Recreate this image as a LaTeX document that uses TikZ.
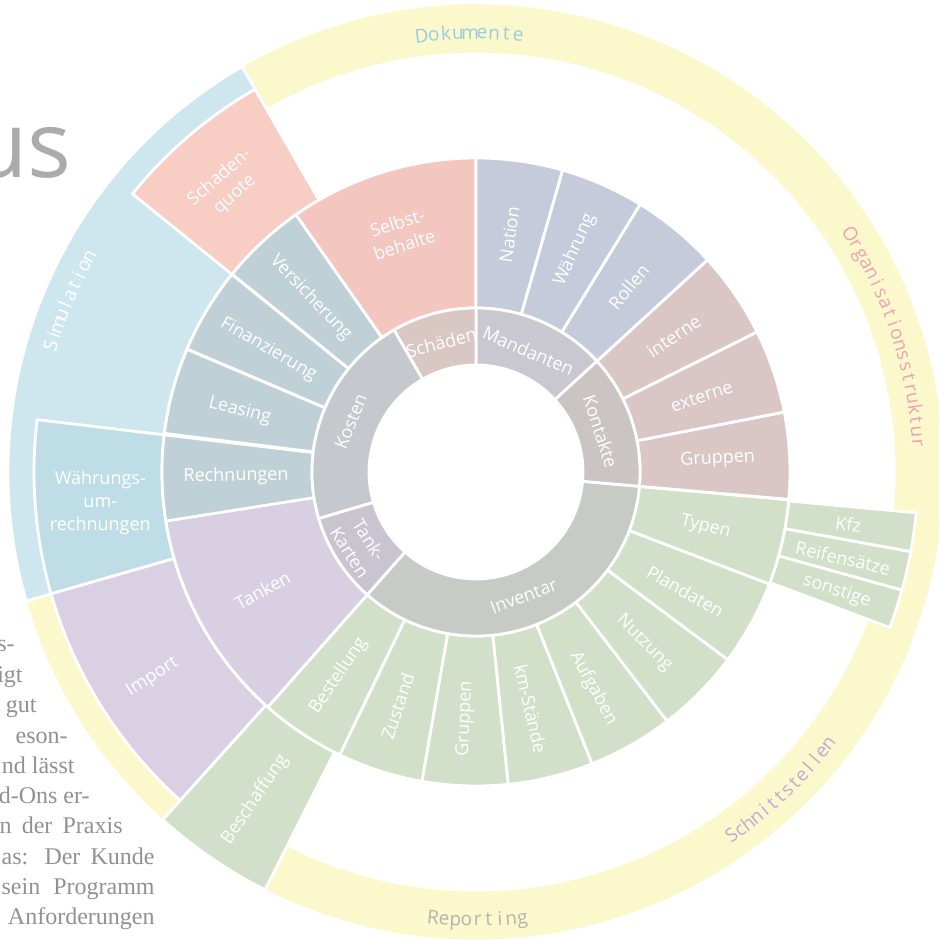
\documentclass[tikz,border=0pt]{standalone}
\usepackage{fontspec}
\setmainfont{Open Sans}
\newfontfamily\bodyfont{Liberation Serif}

% fill colours of the rings
\definecolor{bandyellow}{RGB}{251,249,203}
\definecolor{simblue}{RGB}{206,231,239}
\definecolor{wumblue}{RGB}{190,221,230}
\definecolor{quotered}{RGB}{247,205,196}
\definecolor{selbred}{RGB}{243,198,191}
\definecolor{schadengray}{RGB}{217,199,195}
\definecolor{kostengray}{RGB}{197,200,204}
\definecolor{kostenblue}{RGB}{192,208,215}
\definecolor{mandgray}{RGB}{201,200,208}
\definecolor{mandblue}{RGB}{198,203,220}
\definecolor{kontgray}{RGB}{203,196,197}
\definecolor{kontrose}{RGB}{217,198,197}
\definecolor{invgray}{RGB}{200,202,198}
\definecolor{invgreen}{RGB}{210,223,201}
\definecolor{tankgray}{RGB}{201,196,207}
\definecolor{tanklila}{RGB}{216,207,227}
\definecolor{importlila}{RGB}{217,208,228}
% band captions
\definecolor{dokblue}{RGB}{152,203,226}
\definecolor{orgpink}{RGB}{236,162,180}
\definecolor{schlila}{RGB}{188,172,216}
\definecolor{repgray}{RGB}{180,180,180}

\begin{document}
\begin{tikzpicture}[x=0.5pt,y=0.5pt]
  \tikzset{
    seg/.style={draw=white,line width=1.4pt,line join=round},
    lbl/.style={text=white,align=center,inner sep=0pt,font=\fontsize{9}{11.5}\selectfont},
    ringch/.style={anchor=base,inner sep=0pt,font=\fontsize{9.5}{11}\selectfont},
    para/.style={anchor=base east,inner sep=0pt,text=black!43,font=\bodyfont\fontsize{12}{15}\selectfont}
  }
  % #1 colour, #2/#3 start/end angle, #4/#5 inner/outer radius
  \def\seg#1#2#3#4#5{\filldraw[seg,fill=#1] (#2:#4) arc[start angle=#2,end angle=#3,radius=#4*0.5pt]
    -- (#3:#5) arc[start angle=#3,end angle=#2,radius=#5*0.5pt] -- cycle;}
  % #1 name, #2 angle, #3 radius, #4 rotation, #5 text
  \def\lbl#1#2#3#4#5{\node[lbl,rotate=#4] (#1) at (#2:#3) {#5};}

  \useasboundingbox (-476,-468) rectangle (463,472);
  \clip (-476,-468) rectangle (463,472);

  % OUTER BANDS
  \seg{bandyellow}{196}{480}{418}{469}
  \seg{simblue}{120}{196}{314}{468}

  % RING 3
  \seg{quotered}{120}{141}{314}{442}
  \seg{wumblue}{173.2}{196}{314}{442}
  \seg{importlila}{196}{228}{314}{442}
  \seg{invgreen}{228}{243.2}{314}{468}
  \seg{invgreen}{-10.4}{-5.3}{314}{442}
  \seg{invgreen}{-15.5}{-10.4}{314}{442}
  \seg{invgreen}{-20.6}{-15.5}{314}{442}

  % RING 2
  \seg{selbred}{90}{125}{164}{314}
  \foreach \a [evaluate=\a as \b using \a+15.95] in {125,141,157,173.2}
    {\seg{kostenblue}{\a}{\b}{164}{314}}
  \seg{tanklila}{189}{228.5}{164}{314}
  \foreach \a [evaluate=\a as \b using \a+15.81] in {228.5,244.3,260.1,275.9,291.7,307.5,323.3,339.1}
    {\seg{invgreen}{\a}{\b}{164}{314}}
  \seg{kontrose}{-5}{11}{164}{314}
  \seg{kontrose}{11}{26.5}{164}{314}
  \seg{kontrose}{26.5}{42.5}{164}{314}
  \seg{mandblue}{42.5}{58.5}{164}{314}
  \seg{mandblue}{58.5}{74}{164}{314}
  \seg{mandblue}{74}{90}{164}{314}

  % RING 1
  \seg{mandgray}{42.5}{90}{107}{164}
  \seg{schadengray}{90}{120}{107}{164}
  \seg{kostengray}{120}{196.5}{107}{164}
  \seg{tankgray}{196.5}{228.5}{107}{164}
  \seg{invgray}{228.5}{355}{107}{164}
  \seg{kontgray}{-5}{42.5}{107}{164}

  % LABELS, ring 1
  \lbl{schaden}{105}{134}{15}{Schäden}
  \lbl{mandanten}{66.6}{132}{-23.4}{Mandanten}
  \lbl{kontakte}{18}{131}{-72}{Kontakte}
  \lbl{inventar}{-69}{133}{21}{Inventar}
  \lbl{tankkarten}{212.5}{138}{-57.5}{Tank-\\Karten}
  \lbl{kosten}{158}{135}{68}{Kosten}

  % LABELS, ring 2
  \lbl{selbst}{107.5}{250}{17.5}{Selbst-\\behalte}
  \lbl{versich}{133.5}{240}{-46.5}{Versicherung}
  \lbl{finanz}{149.5}{241}{-30.5}{Finanzierung}
  \lbl{leasing}{165.5}{244}{-14.5}{Leasing}
  \lbl{rechn}{181}{240}{1}{Rechnungen}
  \lbl{tanken}{209}{244}{29}{Tanken}
  \lbl{bestell}{236}{246}{56}{Bestellung}
  \lbl{zustand}{251.5}{247}{71.5}{Zustand}
  \lbl{gruppeninv}{267.5}{247}{87.5}{Gruppen}
  \lbl{kmstand}{-77}{243}{-77}{km-Stände}
  \lbl{aufgaben}{-61.5}{246}{-61.5}{Aufgaben}
  \lbl{nutzung}{-45.5}{240}{-45.5}{Nutzung}
  \lbl{plandaten}{-29.7}{241}{-29.7}{Plandaten}
  \lbl{typen}{-13.5}{236}{-13.5}{Typen}
  \lbl{gruppenkont}{3}{242}{3}{Gruppen}
  \lbl{externe}{18.5}{238}{18.5}{externe}
  \lbl{interne}{34.5}{240}{34.5}{interne}
  \lbl{rollen}{50.5}{240}{50.5}{Rollen}
  \lbl{waehrung}{66}{243}{66}{Währung}
  \lbl{nation}{82}{240}{82}{Nation}

  % LABELS, ring 3
  \lbl{quote}{131}{379}{41}{Schaden-\\quote}
  \lbl{umrechn}{184.7}{377}{0}{Währungs-\\um-\\rechnungen}
  \lbl{import}{212.4}{383}{32.4}{Import}
  \lbl{beschaff}{236}{395}{56}{Beschaffung}
  \lbl{kfz}{-8}{376}{-8}{Kfz}
  \lbl{reifen}{-13.2}{377}{-13}{Reifensätze}
  \lbl{sonstige}{-18.3}{380}{-18}{sonstige}

  % BAND CAPTIONS, letter by letter
  \foreach \ch [count=\i from 0] in {S,i,m,u,l,a,t,i,o,n}
    \node[ringch,text=white,rotate={163.4-1.39*\i-90}] (sim-\i) at ({163.4-1.39*\i}:437) {\ch};
  \foreach \ch [count=\i from 0] in {D,o,k,u,m,e,n,t,e}
    \node[ringch,text=dokblue,rotate={97.1-1.58*\i-90}] (dok-\i) at ({97.1-1.58*\i}:433) {\ch};
  \foreach \ch [count=\i from 0] in {O,r,g,a,n,i,s,a,t,i,o,n,s,s,t,r,u,k,t,u,r}
    \node[ringch,text=orgpink,rotate={32.4-1.43*\i-90}] (org-\i) at ({32.4-1.43*\i}:437) {\ch};
  \foreach \ch [count=\i from 0] in {S,c,h,n,i,t,t,s,t,e,l,l,e,n}
    \node[ringch,text=schlila,rotate={-54.9+1.33*\i+90}] (sst-\i) at ({-54.9+1.33*\i}:451) {\ch};
  \foreach \ch [count=\i from 0] in {R,e,p,o,r,t,i,n,g}
    \node[ringch,text=repgray,rotate={-95.5+1.43*\i+90}] (rep-\i) at ({-95.5+1.43*\i}:454) {\ch};

  % PAGE TEXT around the chart
  \node[anchor=base east,inner sep=0pt,text=black!33,font=\fontsize{46}{46}\selectfont] (title) at (-404,294) {us};
  \node[para] (par1) at (-461,-180) {s-};
  \node[para] (par2) at (-453,-211) {igt};
  \node[para] (par3) at (-439,-241) {o gut};
  \node[para] (par4) at (-408,-271) {eson-};
  \node[para] (par5) at (-401,-301) {nd lässt};
  \node[para] (par6) at (-386,-331) {d-Ons er-};
  \node[para] (par7) at (-353,-361) {\makebox[61.5pt][s]{n der Praxis}};
  \node[para] (par8) at (-321,-392) {\makebox[76.5pt][s]{as: Der Kunde}};
  \node[para] (par9) at (-321,-422) {\makebox[76.5pt][s]{sein Programm}};
  \node[para] (par10) at (-321,-452) {Anforderungen};
\end{tikzpicture}
\end{document}
